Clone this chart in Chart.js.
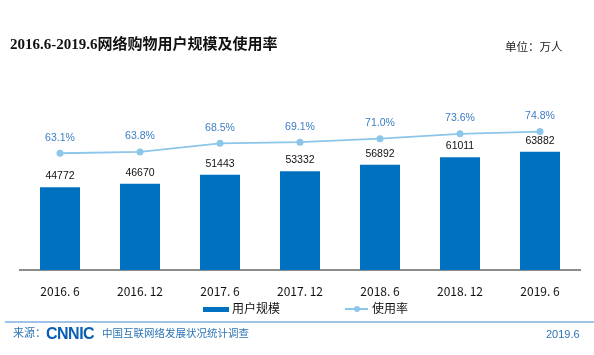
<!DOCTYPE html>
<html>
<head>
<meta charset="utf-8">
<script src="https://cdn.jsdelivr.net/npm/chart.js@4.4.0/dist/chart.umd.min.js"></script>
<style>
  html, body { margin: 0; padding: 0; background: #fff; }
  #wrap { position: relative; width: 594px; height: 355px; overflow: hidden; font-family: "Noto Sans CJK SC", sans-serif; }
  #c { position: absolute; left: 0; top: 0; }
  .t { position: absolute; white-space: nowrap; line-height: 1; }
  #title { left: 10px; top: 32px; font: bold 15px "Liberation Serif", "Noto Sans CJK SC", serif; color: #111; }
  #unit { left: 505px; top: 41px; font-size: 11.5px; color: #222; }
  #leg1box { position: absolute; left: 203px; top: 307px; width: 26px; height: 5px; }
  #leg1 { left: 232px; top: 302px; font-size: 12px; color: #111; }
  #leg2line { position: absolute; left: 345px; top: 308px; width: 23px; height: 2px; }
  #leg2dot { position: absolute; left: 354px; top: 306px; width: 6px; height: 6px; border-radius: 50%; }
  #leg2 { left: 372px; top: 302px; font-size: 12px; color: #111; }
  #fline { position: absolute; left: 5px; top: 321px; width: 589px; height: 2px; background: #9dc3e6; }
  #src { left: 13px; top: 327px; font-size: 11px; color: #2e75b6; }
  #logo { left: 46px; top: 325px; font: bold 16px "Liberation Sans", Arial, sans-serif; color: #0a5fb5; letter-spacing: -0.5px; }
  #org { left: 102px; top: 328px; font-size: 10.5px; color: #2e75b6; }
  #date { left: 546px; top: 328px; font: 11px "Liberation Sans", Arial, sans-serif; color: #2e75b6; }
</style>
</head>
<body>
<div id="wrap">
  <canvas id="c" width="594" height="355"></canvas>
  <div class="t" id="title">2016.6-2019.6网络购物用户规模及使用率</div>
  <div class="t" id="unit">单位：万人</div>
  <div id="leg1box"></div>
  <div class="t" id="leg1">用户规模</div>
  <div id="leg2line"></div>
  <div id="leg2dot"></div>
  <div class="t" id="leg2">使用率</div>
  <div id="fline"></div>
  <div class="t" id="src">来源：</div>
  <div class="t" id="logo">CNNIC</div>
  <div class="t" id="org">中国互联网络发展状况统计调查</div>
  <div class="t" id="date">2019.6</div>
</div>
<script>
const categories = ["2016. 6", "2016. 12", "2017. 6", "2017. 12", "2018. 6", "2018. 12", "2019. 6"];
const users = [44772, 46670, 51443, 53332, 56892, 61011, 63882];
const rates = [63.1, 63.8, 68.5, 69.1, 71.0, 73.6, 74.8];
const seriesNames = ["用户规模", "使用率"];

const barColor = "#0070c0";
const lineColor = "#8cc6ea";
const rateTextColor = "#3c7dc4";

document.getElementById("leg1box").style.background = barColor;
document.getElementById("leg2line").style.background = lineColor;
document.getElementById("leg2dot").style.background = lineColor;

const labelPlugin = {
  id: "valueLabels",
  afterDatasetsDraw(chart) {
    const ctx = chart.ctx;
    ctx.save();
    ctx.textAlign = "center";
    ctx.textBaseline = "middle";
    const barMeta = chart.getDatasetMeta(0);
    ctx.font = "10.5px 'Liberation Sans', Arial, sans-serif";
    ctx.fillStyle = "#111";
    barMeta.data.forEach((el, i) => {
      ctx.fillText(String(users[i]), el.x, el.y - 11);
    });
    const lineMeta = chart.getDatasetMeta(1);
    ctx.fillStyle = rateTextColor;
    lineMeta.data.forEach((el, i) => {
      ctx.fillText(rates[i].toFixed(1) + "%", el.x, el.y - 15.5);
    });
    ctx.restore();
  }
};

new Chart(document.getElementById("c"), {
  data: {
    labels: categories,
    datasets: [
      {
        type: "bar",
        label: seriesNames[0],
        data: users,
        backgroundColor: barColor,
        yAxisID: "y",
        barPercentage: 0.5,
        categoryPercentage: 1.0,
        order: 2
      },
      {
        type: "line",
        label: seriesNames[1],
        data: rates,
        borderColor: lineColor,
        backgroundColor: lineColor,
        borderWidth: 1.8,
        pointRadius: 3.5,
        pointBackgroundColor: lineColor,
        pointBorderWidth: 0,
        tension: 0,
        yAxisID: "y1",
        order: 1
      }
    ]
  },
  options: {
    responsive: false,
    animation: false,
    devicePixelRatio: 1,
    layout: { padding: { left: 20, right: 14, top: 85, bottom: 0 } },
    plugins: {
      legend: { display: false },
      tooltip: { enabled: false }
    },
    scales: {
      x: {
        grid: { display: false, drawTicks: false },
        border: { display: true, color: "#8c8c8c", width: 2 },
        ticks: {
          padding: 14,
          color: "#111",
          font: { family: "'Noto Sans CJK SC', sans-serif", size: 12 }
        },
        afterFit(s) { s.height = 85; }
      },
      y: { display: false, min: 0, max: 100000 },
      y1: { display: false, min: 0, max: 100, position: "right" }
    }
  },
  plugins: [labelPlugin]
});
</script>
</body>
</html>
